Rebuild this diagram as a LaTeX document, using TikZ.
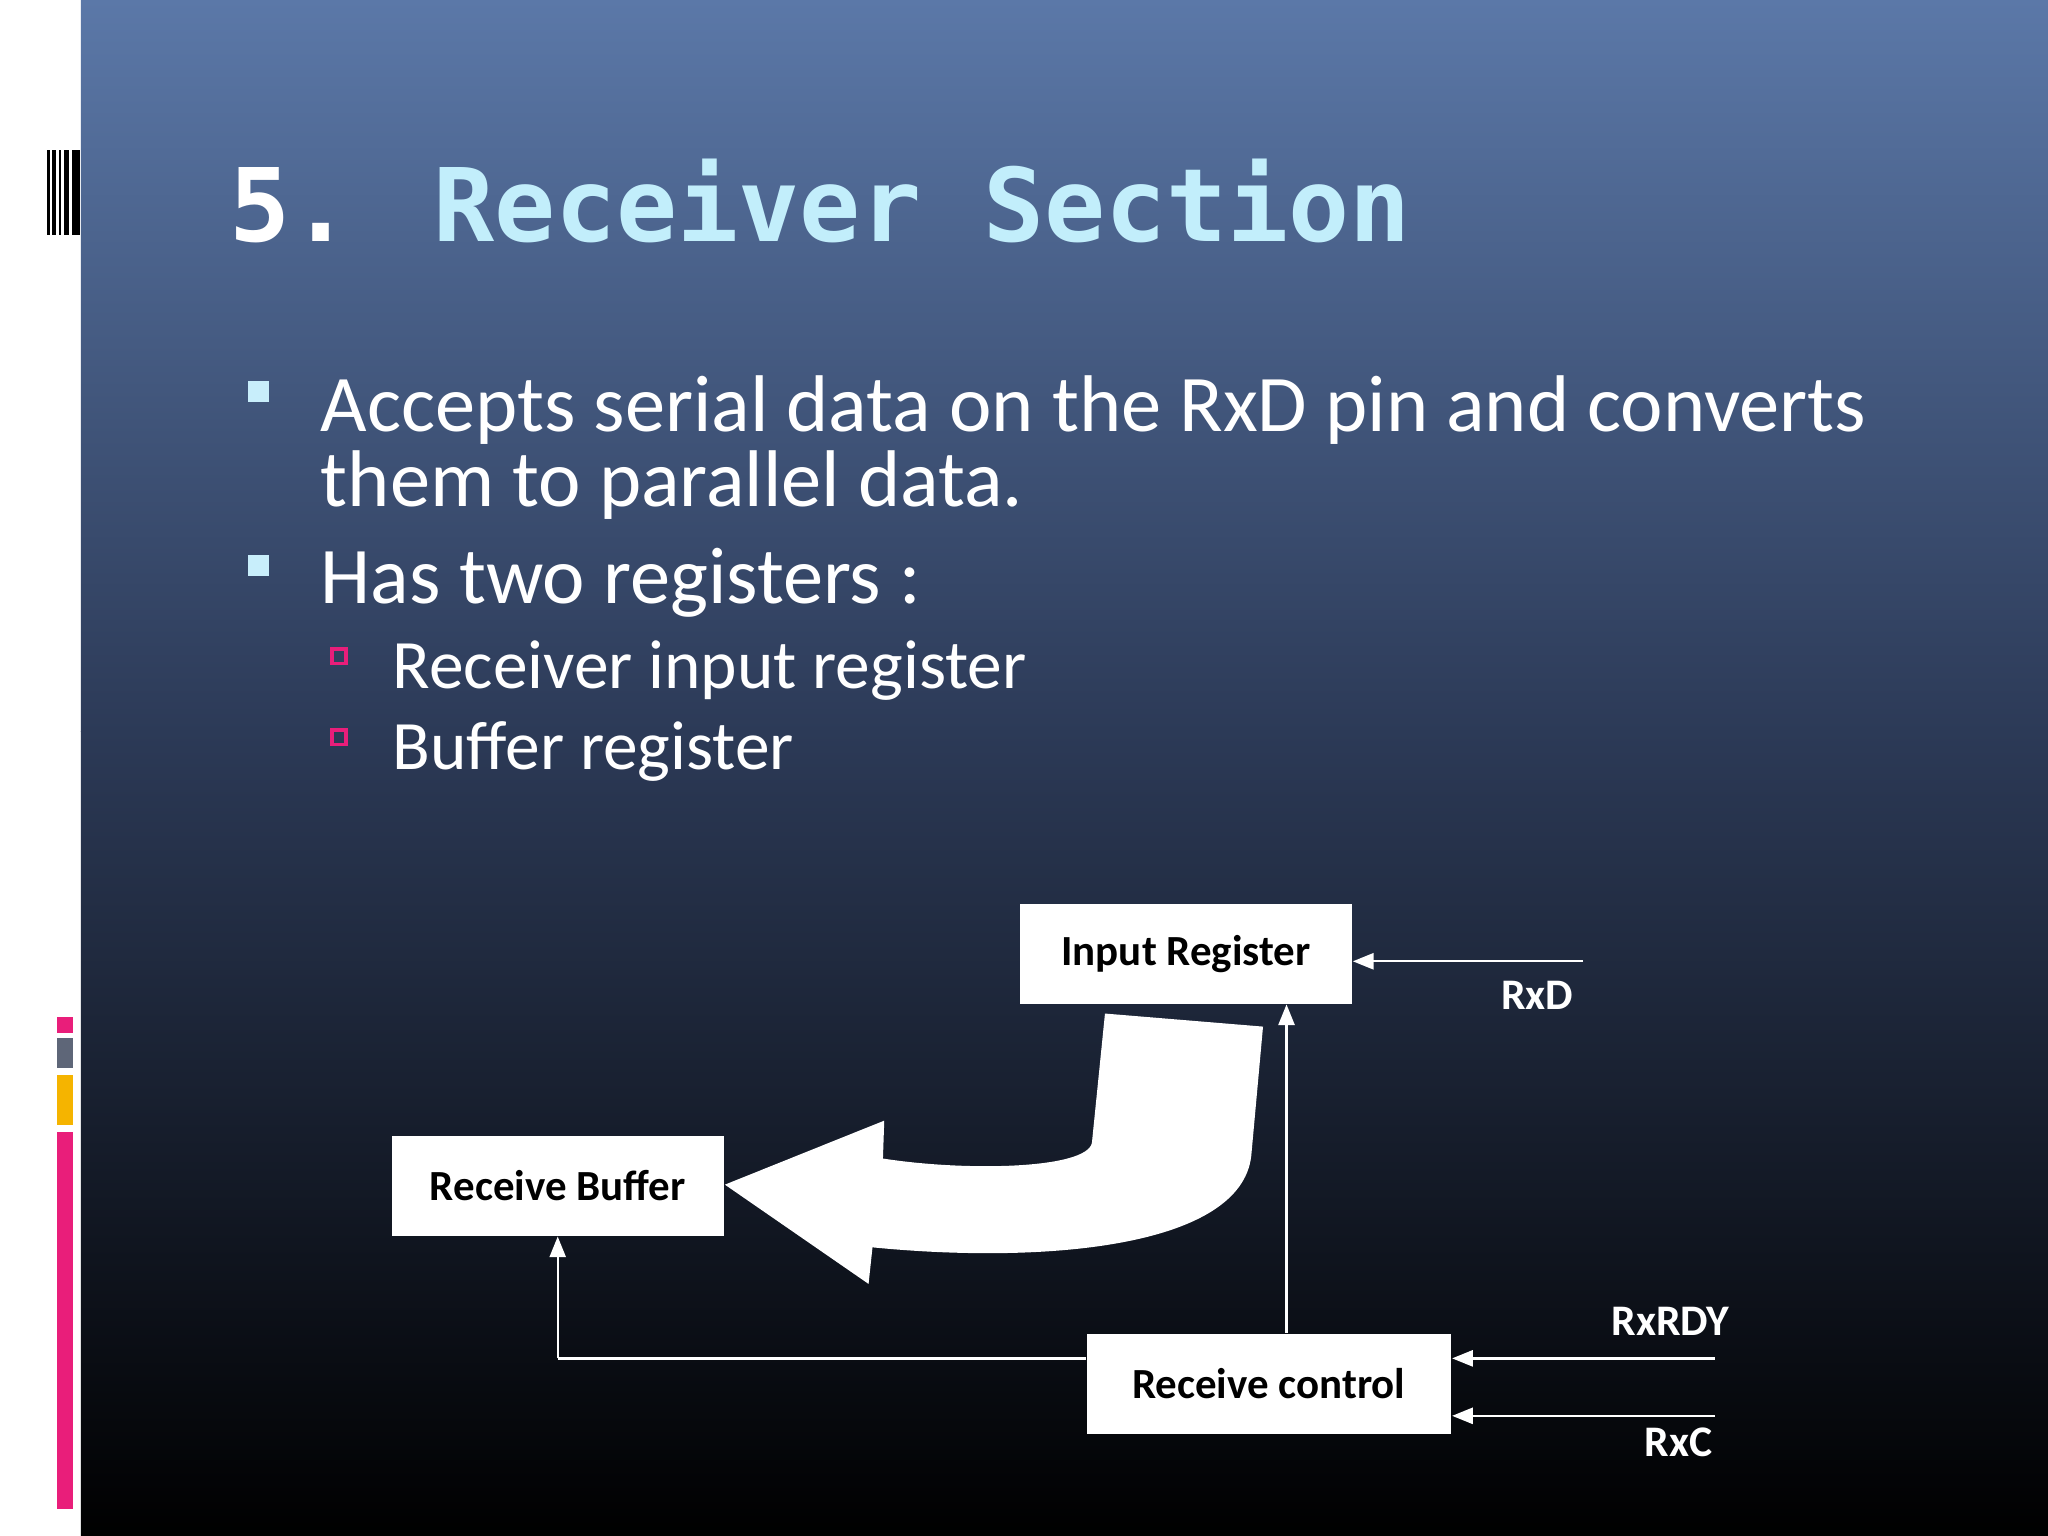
\documentclass[tikz,border=0pt]{standalone}
\usepackage{fontspec}
\setmainfont{Carlito}
\newfontfamily\monob{DejaVu Sans Mono}
\usetikzlibrary{arrows.meta}
\definecolor{topc}{HTML}{5B78A8}
\definecolor{midc}{HTML}{2C3A57}
\definecolor{titc}{HTML}{C2EEFB}
\definecolor{bulc}{HTML}{C8EEFB}
\definecolor{pinkc}{HTML}{E91E7A}
\definecolor{orc}{HTML}{F5B400}
\definecolor{grc}{HTML}{5E6678}
\begin{document}
\begin{tikzpicture}[x=0.01cm,y=-0.01cm,
  box/.style={fill=white,draw=none,inner sep=0pt,font=\fontsize{9.35pt}{11pt}\selectfont\bfseries,text=black},
  wl/.style={draw=white,line width=0.5pt},
  ar/.style={wl,-{Triangle[width=3.5pt,length=4.5pt,fill=white]}},
  lab/.style={text=white,font=\fontsize{9.5pt}{11pt}\selectfont\bfseries},
  big/.style={anchor=base west,inner sep=0pt,text=white,font=\fontsize{17.5pt}{21pt}\selectfont},
  sml/.style={anchor=base west,inner sep=0pt,text=white,font=\fontsize{15.1pt}{18pt}\selectfont}]
\useasboundingbox (0,0) rectangle (1568,1176);
\fill[white] (0,0) rectangle (62,1176);
\shade[top color=topc,bottom color=midc] (62,0) rectangle (1568,560);
\shade[top color=midc,bottom color=black] (62,560) rectangle (1568,1176);
% left decorations
\foreach \x/\w in {36/2,40/3,45/2,49/4,55/6} \fill[black] (\x,115) rectangle (\x+\w,180);
\fill[pinkc] (44,779) rectangle (56,791);
\fill[grc] (44,795) rectangle (56,818);
\fill[orc] (44,823) rectangle (56,861);
\fill[pinkc] (44,867) rectangle (56,1155);
% title
\node[anchor=base west,inner sep=0pt,font=\monob\bfseries\fontsize{22.1pt}{26pt}\selectfont] (title) at (175,185) {\textcolor{white}{5. }\textcolor{titc}{Receiver Section}};
% bullets
\fill[bulc] (190,292) rectangle (206,308);
\fill[bulc] (190,425) rectangle (206,441);
\node[big] (b1) at (245,330) {Accepts serial data on the RxD pin and converts};
\node[big] (b1b) at (245,388) {them to parallel data.};
\node[big] (b2) at (245,462) {Has two registers :};
\draw[pinkc,line width=0.8pt] (254,497) rectangle (265,508);
\draw[pinkc,line width=0.8pt] (254,559) rectangle (265,570);
\node[sml] (s1) at (300,527) {Receiver input register};
\node[sml] (s2) at (300,589) {Buffer register};
% boxes
\node[box,minimum width=2.54cm,minimum height=0.77cm] (ir) at (908,730.5) {Input Register};
\node[box,minimum width=2.54cm,minimum height=0.76cm] (rb) at (427,908) {Receive Buffer};
\node[box,minimum width=2.79cm,minimum height=0.77cm] (rc) at (971.5,1059.5) {Receive control};
% big arrow
\fill[white] (846,776) -- (836,875) .. controls (832,895) and (740,897) .. (676,887) -- (677,858) -- (555,907) -- (665,983) -- (668,955) .. controls (800,968) and (950,955) .. (958,885) -- (967,786) -- cycle;
% connectors
\coordinate (rxd) at (1212,736);
\coordinate (rxrdy) at (1313,1040);
\coordinate (rxc) at (1313,1084);
\coordinate (corner) at (427,1040);
\draw[ar] (rxd) -- (ir.east |- rxd);
\draw[ar] (rc.north -| 985,0) -- (985,769);
\draw[wl] (rc.west |- corner) -- (corner);
\draw[ar] (corner) -- (rb.south);
\draw[ar] (rxrdy) -- (rc.east |- rxrdy);
\draw[ar] (rxc) -- (rc.east |- rxc);
\node[lab] (lrxd) at (1177,762) {RxD};
\node[lab] (lrdy) at (1279,1012) {RxRDY};
\node[lab] (lrxc) at (1285,1104) {RxC};
\end{tikzpicture}
\end{document}
